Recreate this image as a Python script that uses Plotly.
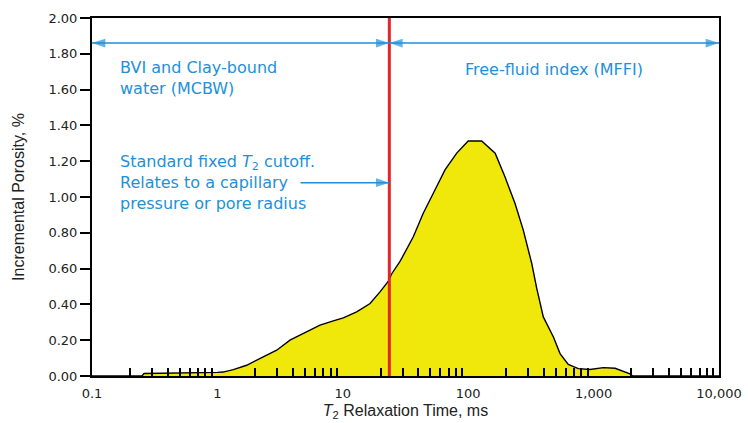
import math
import plotly.graph_objects as go

# T2 relaxation-time distribution (incremental porosity per bin)
t2_ms = [0.1, 0.25, 0.26, 0.5, 0.85, 1.0, 1.11, 1.34, 1.71, 2.19, 2.97, 3.79,
         5.15, 6.58, 8.4, 10.1, 12.9, 16.5, 19.8, 23.1, 24.5, 28.6, 36.5, 43.8,
         54.3, 65.3, 81, 100, 128, 164, 196, 236, 275, 321, 352, 397, 478,
         540, 628, 755, 936, 1196, 1483, 1950, 2050, 10000]
porosity = [0.0, 0.0, 0.014, 0.015, 0.016, 0.02, 0.022, 0.036, 0.06, 0.097, 0.144, 0.20,
            0.246, 0.284, 0.308, 0.325, 0.358, 0.405, 0.47, 0.53, 0.57, 0.64, 0.778, 0.909,
            1.039, 1.151, 1.245, 1.313, 1.313, 1.245, 1.114, 0.965, 0.815, 0.629, 0.49, 0.33, 0.218,
            0.125, 0.065, 0.041, 0.036, 0.047, 0.043, 0.012, 0.0, 0.0]

cutoff_ms = 23.5
x_min, x_max = 0.1, 10000
y_ticks = [0.0, 0.2, 0.4, 0.6, 0.8, 1.0, 1.2, 1.4, 1.6, 1.8, 2.0]
x_major = [0.1, 1, 10, 100, 1000, 10000]
x_major_text = ["0.1", "1", "10", "100", "1,000", "10,000"]
x_minor = [m * d for d in (0.1, 1, 10, 100, 1000) for m in range(2, 10)]

# blue arrows: (start, end, level, heads at both ends?)
arrows = [
    (x_min, cutoff_ms, 1.86, True),
    (cutoff_ms, x_max, 1.86, True),
    (4.6, cutoff_ms, 1.08, False),
]

BLUE = "#2290d8"
YELLOW = "#f0e80a"
RED = "#e3262b"
LG = math.log10

fig = go.Figure()

fig.add_trace(go.Scatter(
    x=t2_ms, y=porosity, mode="lines", fill="tozeroy",
    fillcolor=YELLOW, line=dict(color="black", width=1.4),
    hoverinfo="skip", showlegend=False,
))

fig.add_trace(go.Scatter(
    x=[cutoff_ms, cutoff_ms], y=[0, 2], mode="lines",
    line=dict(color=RED, width=3), hoverinfo="skip", showlegend=False,
))

# arrow shafts with "arrow" markers (tip sits on the data point)
for a, b, lvl, both in arrows:
    fig.add_trace(go.Scatter(
        x=[a, b], y=[lvl, lvl], mode="lines+markers",
        line=dict(color=BLUE, width=1.5),
        marker=dict(symbol="arrow", size=[14 if both else 0, 14],
                    angle=[270, 90], color=BLUE, line=dict(width=0)),
        hoverinfo="skip", showlegend=False, cliponaxis=False,
    ))

ann_font = dict(family="DejaVu Sans", size=16, color=BLUE)
text_blocks = [
    (0.161, 1.665, "BVI and Clay-bound<br>water (MCBW)"),
    (91, 1.712, "Free-fluid index (MFFI)"),
    (0.161, 1.08, "Standard fixed <i>T</i><sub>2</sub> cutoff.<br>"
                  "Relates to a capillary<br>pressure or pore radius"),
]
annotations = []
for xv, yv, txt in text_blocks:
    annotations.append(dict(
        x=LG(xv), y=yv, xref="x", yref="y", text=txt, showarrow=False,
        xanchor="left", yanchor="middle", align="left", font=ann_font,
    ))

fig.update_layout(
    width=748, height=423,
    margin=dict(l=92, r=29, t=18, b=47),
    paper_bgcolor="white", plot_bgcolor="white",
    annotations=annotations,
    xaxis=dict(
        type="log", range=[LG(x_min), LG(x_max)], automargin=False,
        tickmode="array", tickvals=x_major, ticktext=x_major_text,
        ticks="outside", ticklen=4, tickcolor="rgba(0,0,0,0)",
        tickfont=dict(family="DejaVu Sans", size=13, color="#222"),
        minor=dict(tickmode="array", tickvals=x_minor, ticks="inside",
                   ticklen=8, tickwidth=1.5, tickcolor="black", showgrid=False),
        showline=True, linecolor="black", linewidth=2, mirror=True,
        showgrid=False, zeroline=False,
        title=dict(text="<i>T</i><sub>2</sub> Relaxation Time, ms",
                   font=dict(family="Liberation Sans", size=16, color="#222"),
                   standoff=5),
    ),
    yaxis=dict(
        range=[0, 2], automargin=False,
        tickmode="array", tickvals=y_ticks, tickformat=".2f",
        ticks="outside", ticklen=10, tickwidth=1.5, tickcolor="black",
        tickfont=dict(family="DejaVu Sans", size=13, color="#222"),
        showline=True, linecolor="black", linewidth=2, mirror=True,
        showgrid=False, zeroline=False,
        title=dict(text="Incremental Porosity, %",
                   font=dict(family="Liberation Sans", size=16, color="#222"),
                   standoff=20),
    ),
)

fig.write_html("out.html")
